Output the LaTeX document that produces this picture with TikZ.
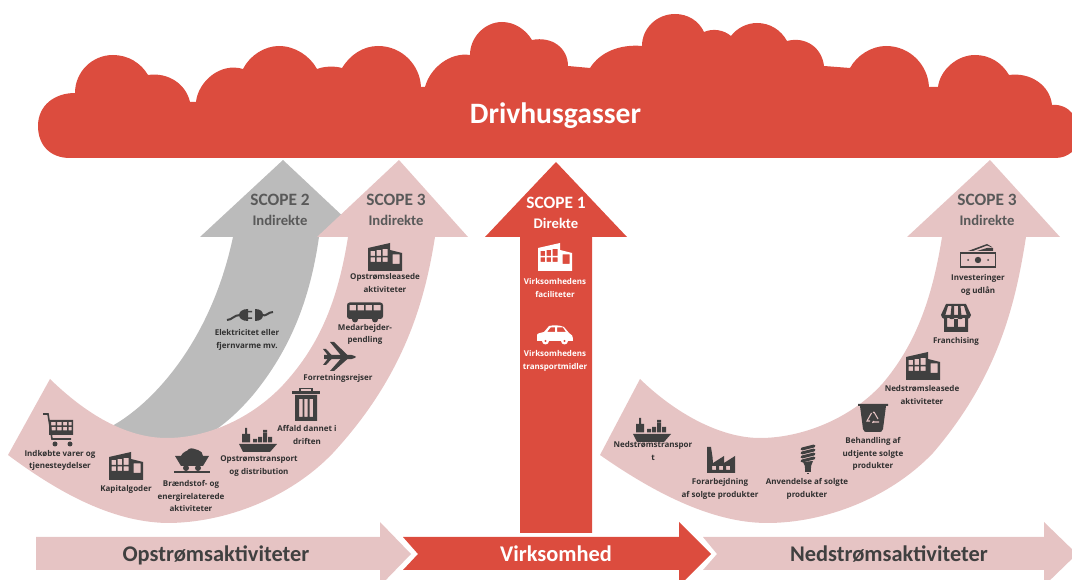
\documentclass[tikz,border=0pt]{standalone}
\usepackage{fontspec}
\newfontfamily\carl{Carlito}
\newfontfamily\smallf{Open Sans}
\definecolor{cred}{HTML}{DC4C3E}
\definecolor{cpink}{HTML}{E6C4C4}
\definecolor{cgray}{HTML}{BBBBBB}
\definecolor{icdark}{HTML}{404040}
\definecolor{labdark}{HTML}{303030}
\definecolor{scopegray}{HTML}{595959}
\colorlet{ic}{icdark}
\tikzset{
  iconcol/.code={\colorlet{ic}{#1}},
  lab/.style={font=\smallf\bfseries\fontsize{6}{9.3}\selectfont,align=center,text=labdark,inner sep=0pt},
  wlab/.style={lab,text=white},
  scopehead/.style={font=\carl\bfseries\fontsize{13}{16}\selectfont,text=scopegray,inner sep=0pt},
  scopesub/.style={font=\carl\bfseries\fontsize{11}{13}\selectfont,text=scopegray,inner sep=0pt},
  barlab/.style={font=\carl\bfseries\fontsize{16.8}{18}\selectfont,text=icdark,inner sep=0pt},
  pics/building/.style={code={
    \fill[ic,even odd rule] (-17,14)--(-17,-9)--(5,-14)--(5,-7)--(17,-4)--(17,14)--cycle
      (-14.5,-6) rectangle (-10,-1) (-8.5,-7) rectangle (-4,-1) (-2.5,-8) rectangle (2.5,-1)
      (-14.5,.5) rectangle (-10,5) (-8.5,.5) rectangle (-4,5) (-2.5,.5) rectangle (2.5,5)
      (7.5,-2.5) rectangle (14.5,7);
  }},
  pics/cart/.style={code={
    \draw[ic,line width=1.2] (-15,-16)--(-10,-16)--(-6,9)--(13,9);
    \fill[ic,even odd rule] (-9,-10) rectangle (15,5)
      (-7,-8) rectangle (-2.5,-4.5) (-1,-8) rectangle (3.5,-4.5) (5,-8) rectangle (9,-4.5) (10.5,-8) rectangle (13.5,-4.5)
      (-6.5,-3) rectangle (-2.5,.5) (-1,-3) rectangle (3.5,.5) (5,-3) rectangle (9,.5) (10.5,-3) rectangle (13.5,.5);
    \fill[ic] (-3,14) circle (2.5) (12,14) circle (2.5);
  }},
  pics/coal/.style={code={
    \fill[ic] (-17,-4)--(17,-4)--(11,6)--(-11,6)--cycle;
    \fill[ic] (-11,-4) .. controls (-9,-9) and (-5,-8) .. (-3,-11) .. controls (0,-13) and (4,-10) .. (6,-10) .. controls (9,-9) and (11,-7) .. (11,-4)--cycle;
    \fill[ic] (-6,8) circle (3) (6,8) circle (3);
    \draw[ic,line width=1] (-18,12)--(18,12);
  }},
  pics/ship/.style={code={
    \fill[ic] (-19,4)--(19,4)--(12,12)--(-15,12)--cycle;
    \fill[ic] (-13,-12) rectangle (-11,2.5) (-16,-6) rectangle (-8,2.5);
    \fill[ic] (-5,-1) rectangle (-1,2.5) (0,-3) rectangle (4,2.5) (5,-7) rectangle (9,2.5) (5,-10) rectangle (9,-7.5) (10,-3) rectangle (14,2.5);
  }},
  pics/trash/.style={code={
    \fill[ic,even odd rule] (-11,-10) rectangle (11,16) (-7,-6) rectangle (-3.5,12) (-1.7,-6) rectangle (1.7,12) (3.5,-6) rectangle (7,12);
    \fill[ic] (-14,-14) rectangle (14,-11);
    \draw[ic,line width=1.2] (-6,-14)--(-6,-16.5)--(6,-16.5)--(6,-14);
  }},
  pics/plane/.style={code={
    \fill[ic] (-15,-2)--(12,-2.2) .. controls (15,-1.5) and (17,-.5) .. (17,0) .. controls (17,.5) and (15,1.5) .. (12,2.2)--(-15,2)--cycle;
    \fill[ic] (2,-1.5)--(-9,-15)--(-5,-15)--(9,-1.5)--cycle;
    \fill[ic] (2,1.5)--(-9,14)--(-5,14)--(9,1.5)--cycle;
    \fill[ic] (-11,-1.5)--(-16,-8)--(-13,-8)--(-7,-1.5)--cycle;
    \fill[ic] (-11,1.5)--(-16,8)--(-13,8)--(-7,1.5)--cycle;
  }},
  pics/bus/.style={code={
    \fill[ic,even odd rule,rounded corners=2] (-18,-9.5) rectangle (18,7)
      [sharp corners] (-15.5,-7) rectangle (-9,-1.5) (-7.5,-7) rectangle (-1,-1.5) (.5,-7) rectangle (7,-1.5) (8.5,-7) rectangle (15.5,-1.5);
    \fill[ic] (-10,7.5) circle (3) (10,7.5) circle (3);
  }},
  pics/plug/.style={code={
    \draw[ic,line width=1.5] (-23,5) .. controls (-18,5) and (-16,0) .. (-10,0);
    \fill[ic] (-2,-6) .. controls (-8,-6) and (-11,-3) .. (-11,0) .. controls (-11,3) and (-8,6) .. (-2,6)--cycle;
    \fill[ic] (-2,-4) rectangle (2,-2.5) (-2,2.5) rectangle (2,4);
    \fill[ic] (5,-6) .. controls (11,-6) and (13,-3) .. (13,0) .. controls (13,3) and (11,6) .. (5,6)--cycle;
    \draw[ic,line width=1.5] (12,0) .. controls (16,2) and (18,-3) .. (23,-3);
  }},
  pics/car/.style={code={
    \fill[ic,even odd rule] (-18,6)--(-18,0) .. controls (-18,-2) and (-14,-2) .. (-11,-3)--(-6,-9) .. controls (-2,-10) and (5,-10) .. (9,-8)--(14,-2) .. controls (17,-1) and (18,1) .. (18,6)--cycle
      (-8,-3)--(-4.5,-7.5)--(0,-7.5)--(0,-3)--cycle (2,-3)--(2,-7.5)--(8,-7.5)--(11,-3)--cycle;
    \fill[ic] (-9.5,6) circle (3.5) (9.5,6) circle (3.5);
    \fill[cred] (-9.5,6) circle (1.2) (9.5,6) circle (1.2);
  }},
  pics/money/.style={code={
    \draw[ic,line width=1.3] (-17.5,-3) rectangle (17.5,11);
    \fill[ic] (0,4) circle (3.2) (-10,4) circle (1) (10,4) circle (1);
    \fill[ic] (-10,-5)--(9,-12)--(14,-9)--(14,-8.5)--(9,-10.5)--(-5,-5)--cycle;
    \fill[ic] (-1,-5)--(9,-8)--(15,-8)--(15,-5)--cycle;
  }},
  pics/shop/.style={code={
    \fill[ic,even odd rule] (-12,-3) rectangle (12,14) (-9,0) rectangle (9,9) ;
    \fill[ic] (-2,1) rectangle (2,14) ;
    \fill[ic] (-2,9) rectangle (-12,14);
    \fill[ic,even odd rule] (-10,-14)--(10,-14)--(15,-3) .. controls (14,2) and (9,2) .. (7.5,-1) .. controls (6,2) and (3,2) .. (0,-1) .. controls (-3,2) and (-6,2) .. (-7.5,-1) .. controls (-9,2) and (-14,2) .. (-15,-3)--cycle
      (-8,-12)--(-4.5,-12)--(-5.5,-2)--(-11,-2)--cycle (-2,-12)--(2,-12)--(2,-2)--(-2,-2)--cycle (4.5,-12)--(8,-12)--(11,-2)--(5.5,-2)--cycle;
  }},
  pics/factory/.style={code={
    \fill[ic,even odd rule] (-14,13)--(-14,-13)--(-10,-13)--(-8.5,-3)--(-8,3)--(3,-4)--(3,3)--(14,-4)--(14,13)--cycle
      (-9,6) rectangle (-5,10) (-2,6) rectangle (2,10) (5,6) rectangle (9,10);
  }},
  pics/bulb/.style={code={
    \foreach \yy in {-12,-8,-4,0} {\draw[ic,line width=2.2,line cap=round] (-6,\yy+2)--(6,\yy-1);}
    \fill[ic] (-5,3) .. controls (-3,7) .. (-3,9)--(3,9) .. controls (3,7) .. (5,2)--cycle;
    \fill[ic] (-3,9.5) rectangle (3,13);
    \fill[ic] (-1.2,14) rectangle (1.2,15.5);
  }},
  pics/bin/.style={code={
    \fill[ic] (-15,-14) rectangle (15,-12) (-13,-12)--(13,-12)--(10,11) .. controls (9,14) and (8,14) .. (6,14)--(-6,14) .. controls (-8,14) and (-9,14) .. (-10,11)--cycle;
    \draw[cpink,line width=.8] (-1.5,-5)--(-6,3)--(-3,3) (1,-6)--(5,1) (6,4)--(-.5,4);
    \draw[cpink,line width=.8] (0,-6)--(1.5,-5) (1,3)--(-.5,5);
  }},
}
\begin{document}
\begin{tikzpicture}[x=0.75pt,y=-0.75pt]
\useasboundingbox (0,0) rectangle (1072,580);
% cloud
\fill[cred] (70,158) .. controls (50,158) and (38,145) .. (38,126)
  .. controls (38,105) and (55,93) .. (75,93)
  .. controls (75,72) and (92,55) .. (113,55)
  .. controls (128,55) and (141,63) .. (148,75)
  .. controls (168,72) and (186,84) .. (190,102)
  -- (196,102) .. controls (198,82) and (220,62) .. (243,69)
  .. controls (250,55) and (265,46) .. (279,46)
  .. controls (295,46) and (310,56) .. (317,69)
  .. controls (325,66) and (335,66) .. (342,68)
  .. controls (350,55) and (363,46) .. (378,46)
  .. controls (402,46) and (420,65) .. (421,87)
  -- (425,87) .. controls (430,68) and (450,52) .. (470,55)
  .. controls (470,37) and (485,22) .. (502,22)
  .. controls (515,22) and (526,30) .. (532,40)
  .. controls (552,36) and (568,48) .. (568,66)
  -- (590,68) .. controls (600,52) and (620,44) .. (642,46)
  .. controls (642,28) and (657,14) .. (675,14)
  .. controls (688,14) and (699,21) .. (704,32)
  .. controls (713,28) and (724,30) .. (731,36)
  .. controls (737,28) and (747,23) .. (757,23)
  .. controls (770,23) and (781,30) .. (787,41)
  .. controls (806,36) and (822,48) .. (824,66)
  -- (850,68) .. controls (857,55) and (872,46) .. (886,46)
  .. controls (910,46) and (928,65) .. (929,87)
  -- (938,87) .. controls (940,70) and (957,55) .. (975,55)
  .. controls (990,55) and (1002,63) .. (1009,75)
  .. controls (1030,72) and (1050,85) .. (1052,105)
  .. controls (1060,104) and (1068,108) .. (1072,113)
  -- (1072,152) .. controls (1067,156) and (1062,158) .. (1055,158) -- cycle;
\node[font=\carl\bfseries\fontsize{22.2}{24}\selectfont,text=white,inner sep=0pt] (title) at (555.5,116) {Drivhusgasser};
% scope 2 gray arrow
\fill[cgray] (233,237)--(200,237)--(283,160)--(365,237)--(319,237)
  .. controls (310,300) and (290,350) .. (253,395)
  .. controls (235,416) and (220,428) .. (200,440)
  -- (150,445) -- (112,426)
  .. controls (150,405) and (210,345) .. (233,237) -- cycle;
% scope 3 left arrow
\fill[cpink] (317,237)--(399,160)--(468,237)--(435,237)
  .. controls (425,300) and (405,375) .. (333,453)
  .. controls (290,498) and (225,523) .. (167,523)
  .. controls (110,522) and (55,490) .. (8,455)
  -- (50,379)
  .. controls (85,413) and (125,438) .. (167,438)
  .. controls (205,438) and (250,420) .. (283,385)
  .. controls (320,345) and (338,300) .. (348,237) -- cycle;
% scope 1 arrow
\fill[cred] (556,162)--(627,237)--(592,237)--(592,533)--(520,533)--(520,237)--(485,237)--cycle;
% scope 3 right arrow
\fill[cpink] (907,237)--(990,160)--(1060,237)--(1026,237)
  .. controls (1016,300) and (1000,375) .. (933,453)
  .. controls (890,498) and (825,523) .. (767,523)
  .. controls (710,523) and (650,490) .. (600,455)
  -- (640,379)
  .. controls (675,413) and (720,438) .. (760,438)
  .. controls (800,438) and (850,420) .. (883,383)
  .. controls (915,345) and (932,300) .. (942,237) -- cycle;
% bottom bars
\fill[cpink] (36,537)--(380,537)--(380,522)--(411,554)--(380,586)--(380,570)--(36,570)--cycle;
\fill[cred] (403,537)--(679,537)--(679,522)--(711,554)--(679,586)--(679,570)--(403,570)--(418,554)--cycle;
\fill[cpink] (703,537)--(1044,537)--(1044,522)--(1077,554)--(1044,586)--(1044,570)--(703,570)--(717,554)--cycle;
\node[barlab] (b1) at (216,555) {Opstrømsaktiviteter};
\node[barlab,text=white] (b2) at (556,554) {Virksomhed};
\node[barlab] (b3) at (889,554) {Nedstrømsaktiviteter};
% scope headings
\node[scopehead] (s2) at (280,200) {SCOPE 2};
\node[scopesub] (s2b) at (280,220) {Indirekte};
\node[scopehead] (s3) at (396,200) {SCOPE 3};
\node[scopesub] (s3b) at (396,220) {Indirekte};
\node[scopehead,text=white] (s1) at (556,203) {SCOPE 1};
\node[scopesub,text=white] (s1b) at (556,223) {Direkte};
\node[scopehead] (s3r) at (987,200) {SCOPE 3};
\node[scopesub] (s3rb) at (987,220) {Indirekte};
% icons and labels - scope 2
\pic at (250,315) {plug};
\node[lab] (l1) at (247,340) {Elektricitet eller\\fjernvarme mv.};
% upstream
\pic at (58,430) {cart};
\node[lab] (l2) at (60,460.5) {Indkøbte varer og\\tjenesteydelser};
\pic at (126,466) {building};
\node[lab] (l3) at (126,489) {Kapitalgoder};
\pic at (192,460) {coal};
\node[lab] (l4) at (191,496) {Brændstof- og\\energirelaterede\\aktiviteter};
\pic at (258,440) {ship};
\node[lab] (l5) at (259,466) {Opstrømstransport\\og distribution};
\pic at (306,405) {trash};
\node[lab] (l6) at (307,435) {Affald dannet i\\driften};
\pic at (339,357) {plane};
\node[lab] (l7) at (338,378) {Forretningsrejser};
\pic at (365,312) {bus};
\node[lab] (l8) at (365,334.5) {Medarbejder-\\pendling};
\pic at (385,257) {building};
\node[lab] (l9) at (385,283) {Opstrømsleasede\\aktiviteter};
% scope 1
\pic[iconcol=white] at (555,257) {building};
\node[wlab] (l10) at (555,288) {Virksomhedens\\faciliteter};
\pic[iconcol=white] at (555,335) {car};
\node[wlab] (l11) at (555,361) {Virksomhedens\\transportmidler};
% downstream
\pic at (652,430) {ship};
\node[lab] (l12) at (653,451) {Nedstrømstranspor\\t};
\pic at (721,460) {factory};
\node[lab] (l13) at (720,489) {Forarbejdning\\af solgte produkter};
\pic at (808,459) {bulb};
\node[lab] (l14) at (807,489) {Anvendelse af solgte\\produkter};
\pic at (873,418) {bin};
\node[lab] (l15) at (873,454) {Behandling af\\udtjente solgte\\produkter};
\pic at (923,366) {building};
\node[lab] (l16) at (922,395) {Nedstrømsleasede\\aktiviteter};
\pic at (956,318) {shop};
\node[lab] (l17) at (956,341) {Franchising};
\pic at (978,256) {money};
\node[lab] (l18) at (978,285) {Investeringer\\og udlån};
\end{tikzpicture}
\end{document}
